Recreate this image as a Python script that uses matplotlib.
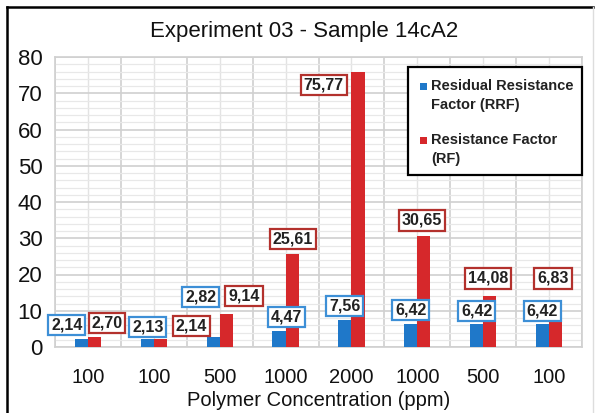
import matplotlib.pyplot as plt
import numpy as np
from matplotlib.lines import Line2D
from matplotlib.patches import Rectangle

plt.rcParams['font.family'] = ['Liberation Sans', 'DejaVu Sans']

# данные эксперимента
concentrations = ['100', '100', '500', '1000', '2000', '1000', '500', '100']
rrf = [2.14, 2.13, 2.82, 4.47, 7.56, 6.42, 6.42, 6.42]
rf = [2.70, 2.14, 9.14, 25.61, 75.77, 30.65, 14.08, 6.83]

# где стоят подписи значений (сдвиг по x в долях категории, высота по y)
rrf_lbl_dx = [-0.32, -0.09, -0.29, 0.02, -0.10, -0.10, -0.10, -0.10]
rrf_lbl_y = [6.1, 5.5, 13.8, 8.3, 11.3, 10.2, 9.9, 9.9]
rf_lbl_dx = [0.29, 0.57, 0.37, 0.11, -0.42, 0.07, 0.07, 0.06]
rf_lbl_y = [6.6, 5.8, 14.1, 29.8, 72.3, 35.0, 19.0, 19.0]

blue = '#1f78c9'
red = '#d6282b'
blue_edge = '#3d8fd6'
red_edge = '#b3312d'

W, H = 596, 413
fig = plt.figure(figsize=(W / 100, H / 100), dpi=100)
ax = fig.add_axes([55 / W, 66 / H, 527 / W, 290 / H])


def px(x, y):
    # пиксели от левого верхнего угла -> доли фигуры
    return x / W, 1 - y / H


x = np.arange(len(concentrations))
w = 0.2
ax.bar(x - w / 2, rrf, width=w, color=blue, zorder=3)
ax.bar(x + w / 2, rf, width=w, color=red, zorder=3)


def fmt(v):
    return f'{v:.2f}'.replace('.', ',')


for i in range(len(x)):
    ax.text(x[i] + rrf_lbl_dx[i], rrf_lbl_y[i], fmt(rrf[i]), ha='center', va='center',
            fontsize=11.5, fontweight='bold', color='#222222', zorder=5,
            bbox=dict(boxstyle='square,pad=0.18', fc='white', ec=blue_edge, lw=1.6))
    ax.text(x[i] + rf_lbl_dx[i], rf_lbl_y[i], fmt(rf[i]), ha='center', va='center',
            fontsize=11.5, fontweight='bold', color='#222222', zorder=5,
            bbox=dict(boxstyle='square,pad=0.18', fc='white', ec=red_edge, lw=1.6))

# оси и сетка
ax.set_xlim(-0.5, len(x) - 0.5)
ax.set_ylim(0, 80)
ax.set_xticks(x)
ax.set_xticklabels(concentrations, fontsize=14.5, color='#111111')
ax.set_xticks(np.arange(-0.5, len(x), 1), minor=True)
ax.set_yticks(np.arange(0, 81, 10))
ax.set_yticks(np.arange(0, 81, 2), minor=True)
ax.tick_params(axis='y', labelsize=16, colors='#111111', length=0, pad=9)
ax.tick_params(axis='x', length=0, pad=15)
ax.tick_params(which='minor', length=0)
ax.grid(True, which='major', axis='y', color='#d0d0d0', linewidth=1.2, zorder=0)
ax.grid(True, which='minor', axis='y', color='#e8e8e8', linewidth=0.9, zorder=0)
ax.grid(True, which='minor', axis='x', color='#d0d0d0', linewidth=1.2, zorder=0)
ax.grid(True, which='major', axis='x', color='#e3e3e3', linewidth=1.0, zorder=0)
ax.set_axisbelow(True)
for s in ax.spines.values():
    s.set_color('#d0d0d0')
    s.set_linewidth(1.2)

ax.set_xlabel('Polymer Concentration (ppm)', fontsize=14.5, color='#111111', labelpad=3)
fig.text(*px(304, 31), 'Experiment 03 - Sample 14cA2', ha='center', va='center',
         fontsize=16, color='#111111')

# легенда рисуется вручную: маркер стоит у первой строки подписи
fig.add_artist(Rectangle(px(408, 175), 174 / W, 108 / H, transform=fig.transFigure,
                         fc='white', ec='black', lw=1.6, zorder=6))
legend_rows = [(blue, 86, ['Residual Resistance', 'Factor (RRF)']),
               (red, 140, ['Resistance Factor', '(RF)'])]
for col, y0, lines in legend_rows:
    fig.add_artist(Rectangle(px(420, y0 + 3.5), 7 / W, 7 / H, transform=fig.transFigure,
                             fc=col, ec='none', zorder=7))
    for k, line in enumerate(lines):
        fig.text(*px(431, y0 + 19 * k), line, ha='left', va='center', fontsize=10.5,
                 fontweight='bold', color='#222222', zorder=7)

# рамка вокруг всего рисунка
fig.add_artist(Line2D([7 / W, 593 / W], [1 - 7 / H, 1 - 7 / H], color='black', lw=1.8,
                      transform=fig.transFigure))
fig.add_artist(Line2D([7 / W, 7 / W], [0, 1 - 7 / H], color='black', lw=1.8,
                      transform=fig.transFigure))
fig.add_artist(Line2D([593 / W, 593 / W], [0, 1 - 7 / H], color='#dddddd', lw=1.0,
                      transform=fig.transFigure))

fig.savefig('out.png', dpi=100)
